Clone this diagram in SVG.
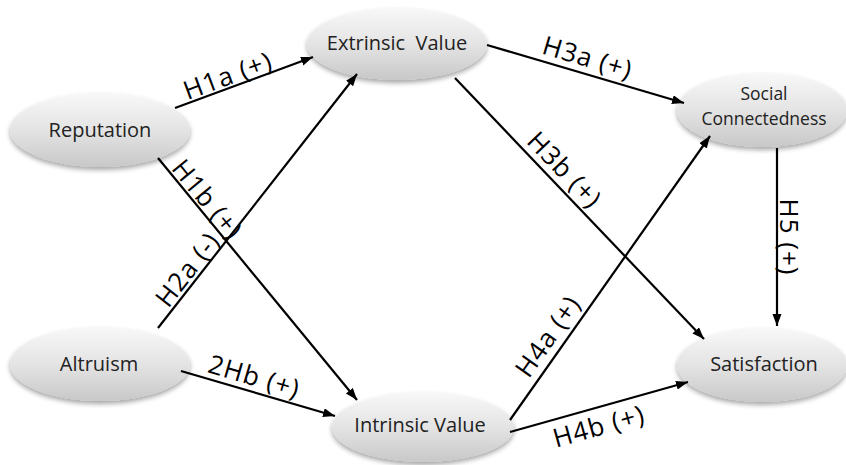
<svg xmlns="http://www.w3.org/2000/svg" width="846" height="465" viewBox="0 0 846 465">
<defs>
<linearGradient id="g" x1="0" y1="0" x2="0" y2="1">
<stop offset="0" stop-color="#f8f8f8"/>
<stop offset="0.5" stop-color="#e4e4e4"/>
<stop offset="1" stop-color="#c8c8c8"/>
</linearGradient>
<filter id="sh" x="-20%" y="-20%" width="140%" height="150%">
<feGaussianBlur in="SourceAlpha" stdDeviation="2.5"/>
<feOffset dx="0" dy="3" result="b"/>
<feComponentTransfer><feFuncA type="linear" slope="0.35"/></feComponentTransfer>
<feMerge><feMergeNode/><feMergeNode in="SourceGraphic"/></feMerge>
</filter>
<marker id="ah" markerUnits="userSpaceOnUse" markerWidth="13" markerHeight="10" refX="12" refY="4.5" orient="auto">
<path d="M0,0 L12,4.5 L0,9 z" fill="#000"/>
</marker>
</defs>
<style>
.node ellipse{fill:url(#g);filter:url(#sh)}
.node text{font-family:"Open Sans","DejaVu Sans",sans-serif;font-size:20px;fill:#222;text-anchor:middle}
.node text.sm{font-size:17.5px}
#connectors line{stroke:#000;stroke-width:2.2;marker-end:url(#ah)}
.lbl{font-family:"Open Sans","DejaVu Sans",sans-serif;font-size:26px;letter-spacing:1px;fill:#000;text-anchor:middle}
</style>
<g id="reputation" class="node">
<ellipse cx="100" cy="130" rx="90" ry="37"/>
<text x="100" y="137">Reputation</text>
</g>
<g id="altruism" class="node">
<ellipse cx="100" cy="364" rx="90" ry="37"/>
<text x="99" y="371">Altruism</text>
</g>
<g id="extrinsic" class="node">
<ellipse cx="397" cy="44" rx="90" ry="36"/>
<text x="397" y="50" xml:space="preserve">Extrinsic  Value</text>
</g>
<g id="intrinsic" class="node">
<ellipse cx="423" cy="427" rx="91" ry="35"/>
<text x="420" y="432">Intrinsic Value</text>
</g>
<g id="social" class="node">
<ellipse cx="762" cy="110" rx="85" ry="37"/>
<text class="sm" x="764" y="100">Social</text>
<text class="sm" x="764" y="125">Connectedness</text>
</g>
<g id="satisfaction" class="node">
<ellipse cx="762" cy="365" rx="85" ry="37"/>
<text x="764" y="371">Satisfaction</text>
</g>
<g id="connectors">
<line x1="175" y1="108" x2="313" y2="57"/>
<line x1="158" y1="328" x2="357" y2="74"/>
<line x1="158" y1="158" x2="357" y2="400"/>
<line x1="181" y1="371" x2="335" y2="416"/>
<line x1="487" y1="45" x2="684" y2="103"/>
<line x1="455" y1="78" x2="704" y2="339"/>
<line x1="510" y1="420" x2="710" y2="136"/>
<line x1="510" y1="432" x2="688" y2="382"/>
<line x1="777" y1="148" x2="777" y2="326"/>
</g>
<g id="labels">
<text class="lbl" transform="translate(232,87) rotate(-20.3)" y="-3">H1a (+)</text>
<text class="lbl" transform="translate(198,207) rotate(50.6)" y="-3">H1b (+)</text>
<text class="lbl" transform="translate(197,277) rotate(-52)" y="-3">H2a (-)</text>
<text class="lbl" transform="translate(250,391) rotate(16.3)" y="-6">2Hb (+)</text>
<text class="lbl" transform="translate(583,73) rotate(16.4)" y="-7">H3a (+)</text>
<text class="lbl" transform="translate(553,181) rotate(46.3)" y="-7">H3b (+)</text>
<text class="lbl" transform="translate(562,346) rotate(-54.8)" y="-8">H4a (+)</text>
<text class="lbl" transform="translate(594,409) rotate(-15.7)" y="27">H4b (+)</text>
<text class="lbl" transform="translate(780,237) rotate(90)" y="0">H5 (+)</text>
</g>
</svg>
